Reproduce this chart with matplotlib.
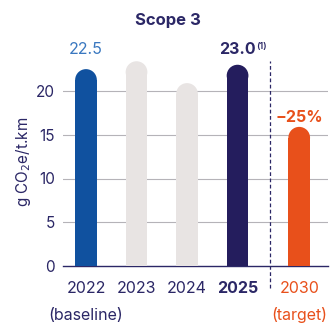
import matplotlib.pyplot as plt
from matplotlib.patches import Ellipse

plt.rcParams["font.family"] = ["Inter", "DejaVu Sans"]

years = ["2022", "2023", "2024", "2025", "2030"]
subtitles = ["(baseline)", "", "", "", "(target)"]
values = [22.5, 23.4, 20.9, 23.0, 15.9]
positions = [0, 1, 2, 3, 4.22]
colors = ["#10519f", "#e8e4e3", "#e8e4e3", "#241d5d", "#e8501b"]
yticks = [0, 5, 10, 15, 20]

NAVY = "#2b2766"
ORANGE = "#e8501b"
W, H, DPI = 3.31, 3.25, 100

fig = plt.figure(figsize=(W, H), dpi=DPI)
left, bottom, width, height = 63 / 331, 59 / 325, 265 / 331, 218.75 / 325
ax = fig.add_axes([left, bottom, width, height])
xlim = (-0.455, 4.79)
ylim = (0, 25)
ax.set_xlim(*xlim)
ax.set_ylim(*ylim)

bar_w = 0.43
# rounded top: radius in data units on each axis
px_per_x = width * W * DPI / (xlim[1] - xlim[0])
px_per_y = height * H * DPI / (ylim[1] - ylim[0])
r_px = bar_w / 2 * px_per_x
r_y = r_px / px_per_y

for x, v, c in zip(positions, values, colors):
    ax.bar(x, v - r_y, width=bar_w, color=c, lw=0, zorder=3)
    ax.add_patch(Ellipse((x, v - r_y), bar_w, 2 * r_y, facecolor=c, lw=0, zorder=3))

for t in yticks[1:]:
    ax.axhline(t, color="#b5b3b8", lw=0.8, zorder=1)

ax.set_yticks(yticks)
ax.set_yticklabels([str(t) for t in yticks], fontsize=11, color=NAVY)
ax.tick_params(axis="y", length=0, pad=6)
ax.set_xticks([])
for s in ["top", "right", "left"]:
    ax.spines[s].set_visible(False)
ax.spines["bottom"].set_color(NAVY)
ax.spines["bottom"].set_linewidth(1.0)

ax.set_ylabel("g CO$_2$e/t.km", fontsize=11, color=NAVY)
ax.yaxis.set_label_coords(-0.112, 0.475)

# dashed separator
ax.plot([3.64, 3.64], [-2.5, 23.4], ls=(0, (3, 2)), color=NAVY, lw=0.9,
        clip_on=False, zorder=2)

# year labels
for x, yr, sub in zip(positions, years, subtitles):
    col = ORANGE if yr == "2030" else NAVY
    fw = "bold" if yr == "2025" else "normal"
    ax.text(x, -2.6, yr, ha="center", va="center", fontsize=11.5, color=col,
            fontweight=fw, clip_on=False)
    if sub:
        ax.text(x, -5.6, sub, ha="center", va="center", fontsize=11.5,
                color=col, clip_on=False)

# value labels
ax.text(positions[0], 24.7, "22.5", ha="center", va="center", fontsize=11.5,
        color="#3a78c0")
ax.text(positions[3], 24.7, "23.0", ha="center", va="center", fontsize=11.5,
        color=NAVY, fontweight="bold")
ax.text(positions[3] + 0.47, 25.1, "(1)", ha="center", va="center", fontsize=6.5,
        color=NAVY, fontweight="semibold")
ax.text(positions[4], 17.0, "\u221225%", ha="center", va="center", fontsize=11.5,
        color=ORANGE, fontweight="bold")

fig.text(168 / 331, 1 - 20 / 325, "Scope 3", ha="center", va="center",
         fontsize=12, fontweight="bold", color=NAVY)

fig.savefig("out.png", dpi=DPI)
